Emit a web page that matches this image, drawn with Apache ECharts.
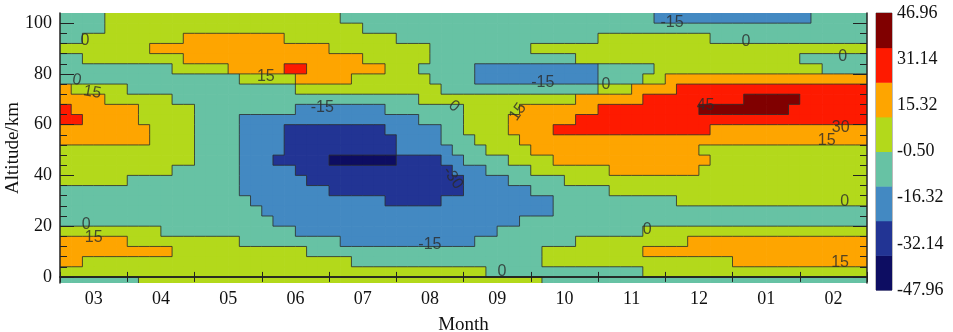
<!DOCTYPE html>
<html><head><meta charset="utf-8">
<script src="https://cdn.jsdelivr.net/npm/echarts@6/dist/echarts.min.js"></script>
<style>html,body{margin:0;padding:0;background:#fff}#c{width:953px;height:332px}</style>
</head><body><div id="c"></div>
<script>
// ---------------- data ----------------
const months = ['03','04','05','06','07','08','09','10','11','12','01','02'];
const yTicks = [0, 20, 40, 60, 80, 100];
const yMinorTicks = [4,8,12,16,24,28,32,36,44,48,52,56,64,68,72,76,84,88,92,96];
const colorbarTicks = [-47.96, -32.14, -16.32, -0.50, 15.32, 31.14, 46.96];
const contourLevels = [-45, -30, -15, 0, 15, 30, 45];
const bandColors = ['#0d0d62','#223494','#4389c2','#67c2a4','#b3d91b','#fea500','#fe1a00','#800000'];
// representative value of each filled band (between contour levels)
const bandValues = [-50, -37.5, -22.5, -7.5, 7.5, 22.5, 37.5, 50];
const colStep = 1/6;   // months per cell
const rowStep = 4;     // km per cell
const rowBase = -4;    // bottom of lowest row (km)
// field, rows from top (100-104 km) to bottom (-4-0 km),
// run-length coded as band:count along the 72 columns (Mar -> Feb)
const fieldRows = [
 "3:4 4:21 3:28 2:14 3:5",
 "3:4 4:23 3:45",
 "3:2 4:9 5:9 4:10 3:18 4:10 3:14",
 "4:8 5:16 4:9 3:9 4:30",
 "3:2 4:9 5:16 4:6 3:13 4:20 3:6",
 "3:10 4:5 5:5 6:2 5:7 4:3 3:5 2:11 3:5 4:15 3:4",
 "3:16 4:5 5:5 4:7 3:4 2:11 3:4 4:2 5:18",
 "5:1 4:5 3:15 4:13 3:14 4:3 5:4 6:17",
 "5:4 4:6 3:22 4:14 5:6 6:9 7:5 6:6",
 "6:1 5:6 4:5 3:9 2:8 3:7 4:5 5:7 6:9 7:8 6:7",
 "6:2 5:5 4:5 3:4 2:16 3:4 4:4 5:6 6:26",
 "5:8 4:4 3:4 2:4 1:9 2:5 3:2 4:4 5:4 6:14 5:14",
 "5:8 4:4 3:4 2:4 1:10 2:4 3:3 4:4 5:31",
 "4:12 3:4 2:4 1:10 2:5 3:3 4:4 5:15 4:15",
 "4:12 3:4 2:3 1:5 0:6 1:4 2:2 3:4 4:4 5:14 4:14",
 "4:10 3:6 2:5 1:14 2:3 3:4 4:7 5:8 4:15",
 "4:6 3:10 2:6 1:14 2:4 3:5 4:27",
 "3:16 2:8 1:12 2:6 3:7 4:23",
 "3:17 2:12 1:5 2:10 3:11 4:17",
 "3:18 2:26 3:28",
 "3:19 2:22 3:31",
 "4:9 3:12 2:18 3:13 4:20",
 "5:6 4:10 3:9 2:12 3:9 4:10 5:16",
 "5:10 4:12 3:21 4:9 5:20",
 "5:2 4:24 3:17 4:17 5:12",
 "4:38 3:14 4:20",
 "3:7 4:36 3:29"
];
// contour labels: [month position, altitude km, text]
const contourLabels = [
 [0.37, 93.3, '0'], [0.25, 77.6, '0'], [0.48, 72.8, '15'], [3.06, 79.1, '15'],
 [3.90, 66.9, '-15'], [7.18, 76.4, '-15'], [8.12, 75.6, '0'], [9.10, 100.4, '-15'],
 [10.20, 92.9, '0'], [11.64, 87.0, '0'], [5.86, 67.3, '0'], [6.81, 65.0, '15'],
 [9.60, 67.7, '45'], [11.61, 58.7, '30'], [11.40, 53.9, '15'], [11.67, 29.5, '0'],
 [8.73, 18.5, '0'], [11.60, 5.5, '15'], [6.57, 2.0, '0'], [0.39, 20.5, '0'],
 [0.50, 15.4, '15'], [5.84, 39.0, '-30'], [5.50, 12.6, '-15']
];
const contourLabelRotate = [0,-10,-10,0,0,0,0,0,0,0,-40,55,0,0,0,0,0,0,0,0,0,-55,0];

// ---------------- build ----------------
const nRows = fieldRows.length;
const cells = [];
const bandGrid = [];
fieldRows.forEach(function (row, k) {
  const y0 = rowBase + rowStep * (nRows - 1 - k);
  const line = [];
  let j = 0;
  row.split(' ').forEach(function (tok) {
    const p = tok.split(':');
    const band = +p[0], cnt = +p[1];
    for (let c = 0; c < cnt; c++) { cells.push([j * colStep, y0, bandValues[band], k, j]); line.push(band); j++; }
  });
  bandGrid.push(line);
});
const nCols = bandGrid[0].length;
const pieces = [];
for (let i = 0; i <= contourLevels.length; i++) {
  const pc = { color: bandColors[i] };
  if (i > 0) pc.gte = contourLevels[i - 1];
  if (i < contourLevels.length) pc.lt = contourLevels[i];
  pieces.push(pc);
}
const serif = 'Liberation Serif';
const axisColor = '#222';
const frameLine = { show: true, lineStyle: { color: axisColor, width: 1.5 } };
const contourStroke = { stroke: '#2b2b2b', lineWidth: 0.8 };

const option = {
  animation: false,
  backgroundColor: '#fff',
  grid: [
    { left: 60, top: 13, width: 807, height: 270, containLabel: false, outerBoundsMode: 'none' },
    { left: 876, top: 13, width: 16, height: 277, containLabel: false, outerBoundsMode: 'none',
      show: true, borderColor: '#555', borderWidth: 0.8, backgroundColor: 'transparent' }
  ],
  visualMap: [{ type: 'piecewise', show: false, seriesIndex: 0, dimension: 2, pieces: pieces }],
  xAxis: [
    { type: 'value', gridIndex: 0, min: 0, max: 12, interval: 1, position: 'bottom', z: 10,
      axisLine: frameLine, axisTick: { show: true, inside: true, length: 5, lineStyle: { color: axisColor } },
      axisLabel: { show: false }, splitLine: { show: false } },
    { type: 'category', gridIndex: 0, data: months, position: 'bottom', boundaryGap: true, z: 10,
      axisLine: { show: false }, axisTick: { show: false },
      axisLabel: { fontFamily: serif, fontSize: 18, color: '#111', margin: 7 },
      name: 'Month', nameLocation: 'middle', nameGap: 33,
      nameTextStyle: { fontFamily: serif, fontSize: 19, color: '#111' } },
    { type: 'value', gridIndex: 0, min: 0, max: 12, interval: 1, position: 'top', z: 10,
      axisLine: frameLine, axisTick: { show: true, inside: true, length: 5, lineStyle: { color: axisColor } },
      axisLabel: { show: false }, splitLine: { show: false } },
    { type: 'value', gridIndex: 1, min: 0, max: 1, show: false }
  ],
  yAxis: [
    { type: 'value', gridIndex: 0, min: -2.4, max: 104, position: 'left', z: 10,
      axisLine: frameLine,
      axisTick: { show: true, inside: true, length: 14, customValues: yTicks, lineStyle: { color: axisColor } },
      axisLabel: { customValues: yTicks, fontFamily: serif, fontSize: 18, color: '#111', margin: 8 },
      splitLine: { show: false },
      name: 'Altitude/km', nameLocation: 'middle', nameGap: 37, nameRotate: 90, nameMoveOverlap: false,
      nameTextStyle: { fontFamily: serif, fontSize: 19, color: '#111' } },
    { type: 'value', gridIndex: 0, min: -2.4, max: 104, position: 'left', z: 10,
      axisLine: { show: false },
      axisTick: { show: true, inside: true, length: 7, customValues: yMinorTicks, lineStyle: { color: axisColor } },
      axisLabel: { show: false }, splitLine: { show: false } },
    { type: 'value', gridIndex: 0, min: -2.4, max: 104, position: 'right', z: 10,
      axisLine: frameLine,
      axisTick: { show: true, inside: true, length: 14, customValues: yTicks, lineStyle: { color: axisColor } },
      axisLabel: { show: false }, splitLine: { show: false } },
    { type: 'value', gridIndex: 0, min: -2.4, max: 104, position: 'right', z: 10,
      axisLine: { show: false },
      axisTick: { show: true, inside: true, length: 7, customValues: yMinorTicks, lineStyle: { color: axisColor } },
      axisLabel: { show: false }, splitLine: { show: false } },
    { type: 'value', gridIndex: 1, min: 0, max: 6, interval: 1, position: 'right',
      axisLine: { show: false }, axisTick: { show: false }, splitLine: { show: false },
      axisLabel: { fontFamily: serif, fontSize: 18, color: '#111', margin: 5,
        formatter: function (v) { return colorbarTicks[Math.round(v)].toFixed(2); } } }
  ],
  series: [
    { type: 'custom', xAxisIndex: 0, yAxisIndex: 0, clip: true, z: 1,
      dimensions: ['x', 'y', 'v', 'k', 'j'], encode: { x: 0, y: 1 },
      data: cells,
      renderItem: function (params, api) {
        const x = api.value(0), y = api.value(1);
        const a = api.coord([x, y + rowStep]);
        const b = api.coord([x + colStep, y]);
        return { type: 'rect', shape: { x: a[0], y: a[1], width: b[0] - a[0] + 0.7, height: b[1] - a[1] + 0.7 },
          style: { fill: api.visual('color') } };
      } },
    { type: 'custom', xAxisIndex: 0, yAxisIndex: 0, clip: true, z: 2, silent: true,
      dimensions: ['x', 'y', 'v', 'k', 'j'], encode: { x: 0, y: 1 },
      data: cells,
      renderItem: function (params, api) {
        const x = api.value(0), y = api.value(1), k = api.value(3), j = api.value(4);
        const me = bandGrid[k][j];
        const children = [];
        if (j + 1 < nCols && bandGrid[k][j + 1] !== me) {
          const p = api.coord([x + colStep, y]), q = api.coord([x + colStep, y + rowStep]);
          children.push({ type: 'line', shape: { x1: p[0], y1: p[1], x2: q[0], y2: q[1] }, style: contourStroke });
        }
        if (k > 0 && bandGrid[k - 1][j] !== me) {
          const p = api.coord([x, y + rowStep]), q = api.coord([x + colStep, y + rowStep]);
          children.push({ type: 'line', shape: { x1: p[0], y1: p[1], x2: q[0], y2: q[1] }, style: contourStroke });
        }
        return { type: 'group', children: children };
      } },
    { type: 'scatter', xAxisIndex: 0, yAxisIndex: 0, symbolSize: 1, z: 5,
      itemStyle: { color: 'rgba(0,0,0,0)' },
      data: contourLabels.map(function (d, i) {
        return { value: [d[0], d[1]],
          label: { show: true, position: 'inside', formatter: d[2], rotate: contourLabelRotate[i],
            color: '#2a2a2a', fontSize: 16, fontFamily: 'Liberation Sans' } };
      }) },
    { type: 'custom', xAxisIndex: 3, yAxisIndex: 4,
      data: bandColors.map(function (c, k) { return [k]; }),
      renderItem: function (params, api) {
        const k = api.value(0);
        const h = 6 / bandColors.length;
        const a = api.coord([0, (k + 1) * h]);
        const b = api.coord([1, k * h]);
        return { type: 'rect', shape: { x: a[0], y: a[1], width: b[0] - a[0], height: b[1] - a[1] + 0.5 },
          style: { fill: bandColors[k] } };
      } }
  ]
};
echarts.init(document.getElementById('c')).setOption(option);
</script></body></html>
